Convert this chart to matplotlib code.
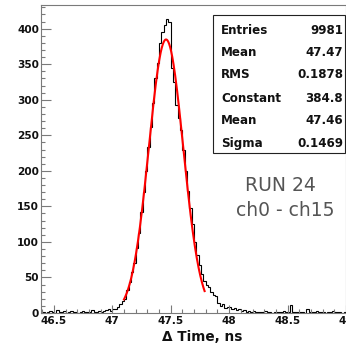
import numpy as np
import matplotlib
matplotlib.use("Agg")
import matplotlib.pyplot as plt
from matplotlib.patches import Rectangle
from matplotlib.ticker import MultipleLocator

# Histogram: 130 bins of 0.02 ns from 46.40 to 49.00
bin_lo, bin_hi = 46.40, 49.00
counts = [
    # 46.40 - 47.00
    1, 0, 2, 3, 1, 0, 4, 2, 1, 3, 0, 2, 3, 1, 2, 0, 1, 3, 2, 1,
    2, 4, 1, 2, 3, 2, 3, 4, 5, 3,
    # 47.00 - 47.50
    6, 5, 9, 12, 17, 20, 33, 44, 57, 70,
    92, 113, 142, 170, 200, 234, 262, 295, 330, 352,
    380, 395, 405, 413, 410,
    # 47.50 - 48.00
    345, 325, 292, 275, 258, 230, 200, 172, 148, 125,
    100, 82, 68, 55, 45, 40, 36, 30, 26, 24,
    14, 10, 12, 7, 8,
    # 48.00 - 49.00
    9, 6, 7, 4, 5, 3, 4, 2, 3, 2,
    3, 1, 2, 2, 1, 3, 1, 2, 0, 2,
    1, 2, 1, 3, 1, 2, 11, 1, 2, 1,
    2, 1, 0, 5, 1, 2, 1, 3, 1, 2,
    1, 0, 2, 1, 3, 1, 2, 1, 0, 1,
]

# Gaussian fit results and fit range
fit_constant = 384.8
fit_mean = 47.46
fit_sigma = 0.1469
fit_range = (47.10, 47.79)

stat_names = ["Entries", "Mean", "RMS", "Constant", "Mean", "Sigma"]
stat_values = ["9981", "47.47", "0.1878", "384.8", "47.46", "0.1469"]

W, H = 346, 349
fig = plt.figure(figsize=(W / 100, H / 100), dpi=100)
fig.patch.set_facecolor("white")

def fx(px):
    return px / W

def fy(py):
    return 1 - py / H

ax_l, ax_r, ax_t, ax_b = 41, 346, 4.5, 313
ax = fig.add_axes([fx(ax_l), fy(ax_b), fx(ax_r - ax_l), (ax_b - ax_t) / H])

edges = np.linspace(bin_lo, bin_hi, len(counts) + 1)
ax.stairs(counts, edges, color="black", linewidth=0.8)

xf = np.linspace(fit_range[0], fit_range[1], 300)
yf = fit_constant * np.exp(-0.5 * ((xf - fit_mean) / fit_sigma) ** 2)
ax.plot(xf, yf, color="red", linewidth=1.5)

ax.set_xlim(46.39, 49.0)
ax.set_ylim(0, 434)

frame_col = "#7a7a7a"
for s in ax.spines.values():
    s.set_color(frame_col)
    s.set_linewidth(0.8)

ax.xaxis.set_major_locator(MultipleLocator(0.5))
ax.xaxis.set_minor_locator(MultipleLocator(0.1))
ax.yaxis.set_major_locator(MultipleLocator(50))
ax.yaxis.set_minor_locator(MultipleLocator(10))
ax.tick_params(axis="both", which="both", direction="in", color=frame_col,
               width=0.8, top=False, right=False)
ax.tick_params(axis="x", which="major", length=5.5, pad=2.5)
ax.tick_params(axis="x", which="minor", length=3.2)
ax.tick_params(axis="y", which="major", length=7.5, pad=1.5)
ax.tick_params(axis="y", which="minor", length=3.2)

ax.set_xticks([46.5, 47, 47.5, 48, 48.5, 49])
ax.set_xticklabels(["46.5", "47", "47.5", "48", "48.5", "49"])
for lab in ax.get_xticklabels() + ax.get_yticklabels():
    lab.set_fontfamily("DejaVu Sans")
    lab.set_fontweight("bold")
    lab.set_fontsize(7.6)
    lab.set_color("#111111")

fig.text(fx(202), fy(337), "\u0394 Time, ns", ha="center", va="center",
         fontsize=9.8, fontweight="bold", family="DejaVu Sans", color="#111111")

# Statistics box
box_l, box_r, box_t, box_b = 213, 345, 15, 152.5
fig.patches.append(Rectangle((fx(box_l), fy(box_b)), fx(box_r - box_l),
                             (box_b - box_t) / H, transform=fig.transFigure,
                             facecolor="white", edgecolor="#222222",
                             linewidth=0.8, zorder=5))
row_y = [30, 52, 75, 98, 120, 143]
for name, val, yy in zip(stat_names, stat_values, row_y):
    fig.text(fx(221), fy(yy), name, ha="left", va="center", fontsize=8.6,
             fontweight="bold", family="DejaVu Sans", color="#111111", zorder=6)
    fig.text(fx(343), fy(yy), val, ha="right", va="center", fontsize=8.6,
             fontweight="bold", family="DejaVu Sans", color="#111111", zorder=6)

fig.text(fx(280), fy(185), "RUN 24", ha="center", va="center", fontsize=13.5,
         family="DejaVu Sans", color="#555555")
fig.text(fx(285), fy(210), "ch0 - ch15", ha="center", va="center", fontsize=13.5,
         family="DejaVu Sans", color="#555555")

fig.savefig("out.png", dpi=100)
